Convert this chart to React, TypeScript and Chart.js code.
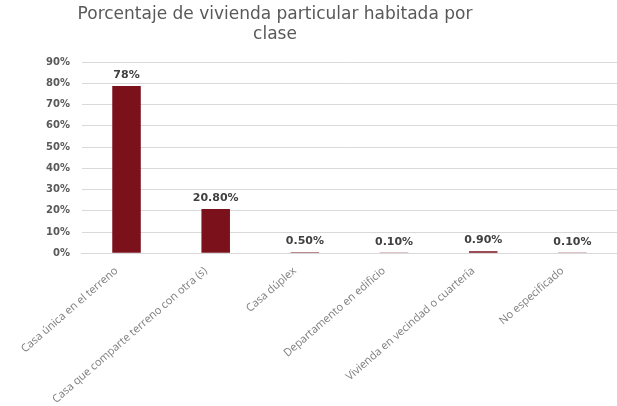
import React, { useEffect, useRef } from "react";
import { Chart, registerables } from "chart.js";

Chart.register(...registerables);

const titleLines = ["Porcentaje de vivienda particular habitada por", "clase"];
const categories = [
  "Casa única en el terreno",
  "Casa que comparte terreno con otra (s)",
  "Casa dúplex",
  "Departamento en edificio",
  "Vivienda en vecindad o cuartería",
  "No especificado",
];
const values = [78.7, 20.8, 0.5, 0.1, 0.9, 0.1];
const valueLabels = ["78%", "20.80%", "0.50%", "0.10%", "0.90%", "0.10%"];
const yTicks = [0, 10, 20, 30, 40, 50, 60, 70, 80, 90];

const dataLabelPlugin = {
  id: "dataLabels",
  afterDatasetsDraw(chart: any) {
    const ctx = chart.ctx;
    const meta = chart.getDatasetMeta(0);
    ctx.save();
    ctx.font = "bold 11px 'DejaVu Sans'";
    ctx.fillStyle = "#404040";
    ctx.textAlign = "center";
    ctx.textBaseline = "alphabetic";
    meta.data.forEach((bar: any, i: number) => {
      ctx.fillText(valueLabels[i], bar.x, bar.y - 8);
    });
    ctx.restore();
  },
};

const titlePlugin = {
  id: "customTitle",
  afterDraw(chart: any) {
    const ctx = chart.ctx;
    ctx.save();
    ctx.font = "17px 'DejaVu Sans'";
    ctx.fillStyle = "#595959";
    ctx.textAlign = "center";
    ctx.textBaseline = "alphabetic";
    titleLines.forEach((line, i) => {
      ctx.fillText(line, 275, 19 + i * 20);
    });
    ctx.restore();
  },
};

export default function App() {
  const ref = useRef<HTMLCanvasElement | null>(null);
  useEffect(() => {
    if (!ref.current) return;
    const chart = new Chart(ref.current, {
      type: "bar",
      data: {
        labels: categories,
        datasets: [
          {
            data: values,
            backgroundColor: "#7A111B",
            categoryPercentage: 1,
            barPercentage: 0.32,
          },
        ],
      },
      options: {
        animation: false,
        responsive: false,
        layout: { padding: { left: 34, right: 0, top: 62, bottom: -3 } },
        plugins: {
          legend: { display: false },
          tooltip: { enabled: false },
          title: { display: false },
        },
        scales: {
          x: {
            grid: { display: false },
            border: { display: true, color: "#d9d9d9" },
            ticks: {
              color: "#808080",
              font: { family: "'Open Sans'", size: 11 },
              maxRotation: 41,
              minRotation: 41,
              autoSkip: false,
              labelOffset: -10,
            },
          },
          y: {
            min: 0,
            max: 90,
            afterBuildTicks: (axis: any) => {
              axis.ticks = yTicks.map((v) => ({ value: v }));
            },
            grid: { color: "#d9d9d9", drawTicks: false },
            border: { display: false },
            ticks: {
              color: "#595959",
              padding: 12,
              font: { family: "'DejaVu Sans'", size: 10, weight: "bold" },
              callback: (v: any) => v + "%",
            },
          },
        },
      },
      plugins: [dataLabelPlugin, titlePlugin],
    });
    return () => chart.destroy();
  }, []);
  return (
    <div style={{ position: "fixed", left: 0, top: 0, width: 617, height: 406, background: "#fff" }}>
      <canvas ref={ref} width={617} height={406} />
    </div>
  );
}
